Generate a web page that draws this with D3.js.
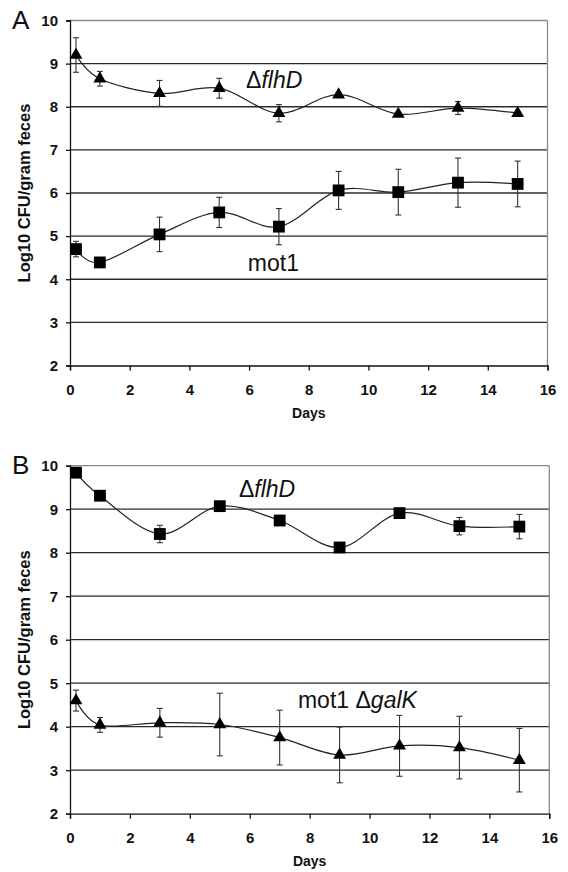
<!DOCTYPE html>
<html>
<head>
<meta charset="utf-8">
<script src="https://cdn.jsdelivr.net/npm/d3@7"></script>
<style>
  html, body { margin: 0; padding: 0; background: #fff; }
  svg { display: block; font-family: "Liberation Sans", Arial, sans-serif; }
</style>
</head>
<body>
<svg id="chart" width="568" height="872"></svg>
<script>
// ---- data ----
const days = [0.2, 1, 3, 5, 7, 9, 11, 13, 15];
const xTicks = [0, 2, 4, 6, 8, 10, 12, 14, 16];
const yTicks = [2, 3, 4, 5, 6, 7, 8, 9, 10];

// Panel A
const aFlhD = [9.2, 8.65, 8.31, 8.43, 7.85, 8.28, 7.83, 7.97, 7.85];
const aFlhDErr = [0.4, 0.17, 0.3, 0.23, 0.2, 0.04, 0.03, 0.15, 0.03];
const aMot1 = [4.70, 4.39, 5.04, 5.55, 5.22, 6.06, 6.02, 6.24, 6.21];
const aMot1Err = [0.18, 0.04, 0.4, 0.35, 0.42, 0.44, 0.53, 0.57, 0.53];

// Panel B
const bFlhD = [9.84, 9.31, 8.43, 9.07, 8.74, 8.12, 8.91, 8.61, 8.6];
const bFlhDErr = [0.04, 0.1, 0.2, 0.04, 0.04, 0.05, 0.04, 0.2, 0.28];
const bMot1GalK = [4.6, 4.04, 4.09, 4.05, 3.75, 3.35, 3.56, 3.52, 3.23];
const bMot1GalKErr = [0.24, 0.17, 0.33, 0.72, 0.63, 0.64, 0.7, 0.72, 0.73];

const svg = d3.select("#chart");

function drawPanel(cfg) {
  const x = d3.scaleLinear().domain([0, 16]).range([cfg.left, cfg.right]);
  const y = d3.scaleLinear().domain([2, 10]).range([cfg.bottom, cfg.top]);
  const g = svg.append("g");

  // gridlines
  g.selectAll("line.grid").data(yTicks.filter(t => t > 2 && t < 10)).join("line")
    .attr("x1", cfg.left).attr("x2", cfg.right)
    .attr("y1", d => y(d)).attr("y2", d => y(d))
    .attr("stroke", "#2a2a2a").attr("stroke-width", 1.3);
  // top & right border
  g.append("line").attr("x1", cfg.left).attr("x2", cfg.right)
    .attr("y1", y(10)).attr("y2", y(10)).attr("stroke", "#8a8a8a").attr("stroke-width", 1.3);
  g.append("line").attr("x1", cfg.right).attr("x2", cfg.right)
    .attr("y1", y(10)).attr("y2", y(2)).attr("stroke", "#8a8a8a").attr("stroke-width", 1.3);

  // axes
  const xAxis = d3.axisBottom(x).tickValues(xTicks).tickSize(5).tickPadding(14);
  const gx = g.append("g").attr("transform", `translate(0,${cfg.bottom})`).call(xAxis);
  gx.select(".domain").attr("stroke", "#111").attr("stroke-width", 1.3);
  gx.selectAll(".tick line").attr("stroke", "#111").attr("stroke-width", 1.3);
  gx.selectAll("text").attr("font-size", 15).attr("font-weight", "bold").attr("fill", "#111")
    .attr("font-family", "'Liberation Sans', Arial, sans-serif");

  const yAxis = d3.axisLeft(y).tickValues(yTicks).tickSize(4).tickPadding(8);
  const gy = g.append("g").attr("transform", `translate(${cfg.left},0)`).call(yAxis);
  gy.select(".domain").attr("stroke", "#111").attr("stroke-width", 1.3);
  gy.selectAll(".tick line").attr("stroke", "#111").attr("stroke-width", 1.3);
  gy.selectAll("text").attr("font-size", 15).attr("font-weight", "bold").attr("fill", "#111")
    .attr("font-family", "'Liberation Sans', Arial, sans-serif");

  // axis titles
  g.append("text").attr("x", (cfg.left + cfg.right) / 2).attr("y", cfg.bottom + 52.5)
    .attr("text-anchor", "middle").attr("font-size", 14).attr("font-weight", "bold")
    .attr("fill", "#111").text("Days");
  g.append("text")
    .attr("transform", `translate(29.5,${(cfg.top + cfg.bottom) / 2}) rotate(-90)`)
    .attr("text-anchor", "middle").attr("font-size", 16.5).attr("font-weight", "bold")
    .attr("fill", "#111").text("Log10 CFU/gram feces");

  // panel letter
  g.append("text").attr("x", 12).attr("y", cfg.top + 8)
    .attr("font-size", 26).attr("fill", "#111").text(cfg.letter);

  const line = d3.line().x(d => x(d[0])).y(d => y(d[1])).curve(d3.curveCardinal.tension(0));

  cfg.series.forEach(s => {
    const pts = days.map((d, i) => [d, s.values[i], s.errs[i]]);
    // error bars
    const eb = g.append("g").attr("stroke", "#333").attr("stroke-width", 1.1);
    pts.forEach(p => {
      const cx = x(p[0]), y1 = y(p[1] + p[2]), y2 = y(p[1] - p[2]);
      eb.append("line").attr("x1", cx).attr("x2", cx).attr("y1", y1).attr("y2", y2);
      eb.append("line").attr("x1", cx - 3).attr("x2", cx + 3).attr("y1", y1).attr("y2", y1);
      eb.append("line").attr("x1", cx - 3).attr("x2", cx + 3).attr("y1", y2).attr("y2", y2);
    });
    g.append("path").datum(pts).attr("d", line).attr("fill", "none")
      .attr("stroke", "#222").attr("stroke-width", 1.2);
    const sym = s.shape === "square" ? d3.symbol(d3.symbolSquare, 140) : d3.symbol(d3.symbolTriangle, 72);
    g.selectAll(null).data(pts).join("path")
      .attr("transform", p => `translate(${x(p[0])},${y(p[1])})`)
      .attr("d", sym).attr("fill", "#000");
  });

  cfg.labels.forEach(l => {
    const t = g.append("text").attr("x", x(l.x)).attr("y", y(l.y))
      .attr("font-size", 23).attr("fill", "#111");
    l.parts.forEach(p => {
      t.append("tspan").attr("font-style", p.italic ? "italic" : "normal").text(p.text);
    });
  });
}

drawPanel({
  letter: "A", left: 70, right: 547.5, top: 20.5, bottom: 365.5,
  series: [
    { values: aFlhD, errs: aFlhDErr, shape: "triangle" },
    { values: aMot1, errs: aMot1Err, shape: "square" }
  ],
  labels: [
    { x: 5.9, y: 8.44, parts: [{ text: "Δ" }, { text: "flhD", italic: true }] },
    { x: 5.96, y: 4.2, parts: [{ text: "mot1" }] }
  ]
});

drawPanel({
  letter: "B", left: 70, right: 549.3, top: 465.7, bottom: 813.7,
  series: [
    { values: bFlhD, errs: bFlhDErr, shape: "square" },
    { values: bMot1GalK, errs: bMot1GalKErr, shape: "triangle" }
  ],
  labels: [
    { x: 5.64, y: 9.29, parts: [{ text: "Δ" }, { text: "flhD", italic: true }] },
    { x: 7.61, y: 4.43, parts: [{ text: "mot1 Δ" }, { text: "galK", italic: true }] }
  ]
});
</script>
</body>
</html>
